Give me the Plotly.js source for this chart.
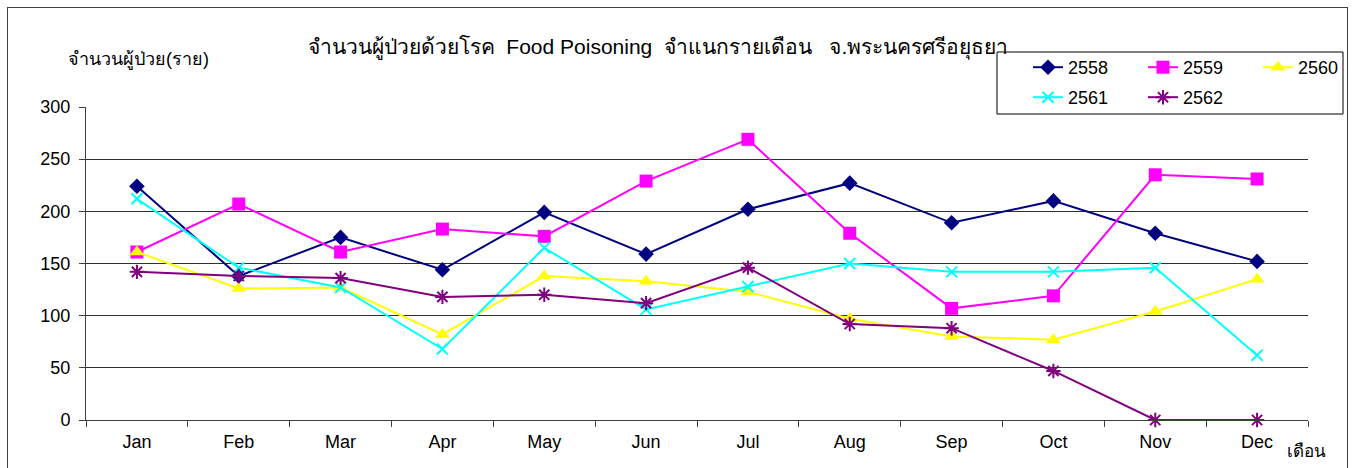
<!DOCTYPE html>
<html>
<head>
<meta charset="utf-8">
<script src="https://cdn.plot.ly/plotly-3.0.1.min.js"></script>
<style>
  html, body { margin: 0; padding: 0; background: #fff; }
  #wrap { position: relative; width: 1357px; height: 468px; overflow: hidden; }
  #chart { position: absolute; left: 0; top: 0; width: 1357px; height: 468px; }
  #frame { position: absolute; left: 7px; top: 7px; width: 1339px; height: 480px; border: 1px solid #404040; pointer-events: none; }
</style>
</head>
<body>
<div id="wrap">
  <div id="chart"></div>
  <div id="frame"></div>
</div>
<script>
const months = ['Jan','Feb','Mar','Apr','May','Jun','Jul','Aug','Sep','Oct','Nov','Dec'];
const y2558 = [224, 138, 175, 144, 199, 159, 202, 227, 189, 210, 179, 152];
const y2559 = [161, 207, 161, 183, 176, 229, 269, 179, 107, 119, 235, 231];
const y2560 = [161, 126, 127, 82, 138, 133, 123, 97, 80, 77, 104, 135];
const y2561 = [212, 146, 127, 68, 165, 106, 128, 150, 142, 142, 146, 62];
const y2562 = [142, 138, 136, 118, 120, 112, 146, 92, 88, 47, 0, 0];
const yTicks = [0, 50, 100, 150, 200, 250, 300];

const titleText = 'จำนวนผู้ป่วยด้วยโรค  Food Poisoning  จำแนกรายเดือน   จ.พระนครศรีอยุธยา';
const yTitleText = 'จำนวนผู้ป่วย(ราย)';
const xTitleText = 'เดือน';

const FONT = 'Liberation Sans, Arial, sans-serif';

function tr(name, y, color, symbol, size, legend, lineMarker) {
  return {
    type: 'scatter', mode: 'lines+markers', name: name, x: months, y: y,
    line: { color: color, width: 2 },
    marker: Object.assign({ symbol: symbol, size: size, color: color }, lineMarker || {}),
    legend: legend, cliponaxis: false
  };
}

const data = [
  tr('2558', y2558, '#000080', 'diamond', 12, 'legend'),
  tr('2559', y2559, '#FF00FF', 'square', 13, 'legend'),
  tr('2560', y2560, '#FFFF00', 'triangle-up', 13, 'legend'),
  tr('2561', y2561, '#00FFFF', 'x-thin-open', 11, 'legend2', { line: { color: '#00FFFF', width: 2 } }),
  tr('2562', y2562, '#800080', 'asterisk-open', 12, 'legend2', { line: { color: '#800080', width: 2 } })
];

const L = 86, R = 1308, T = 107, B = 420;
const W = 1357, H = 468;
const pw = R - L, ph = B - T;
const px = v => (v - L) / pw;
const py = v => (B - v) / ph;

const legendCommon = {
  orientation: 'h', xref: 'paper', yref: 'paper', xanchor: 'left', yanchor: 'top',
  bgcolor: 'rgba(255,255,255,0)', borderwidth: 0,
  font: { family: FONT, size: 18, color: '#000' },
  entrywidth: 70, entrywidthmode: 'pixels', itemwidth: 30, tracegroupgap: 0
};

const layout = {
  width: W, height: H,
  margin: { l: L, r: W - R, t: T, b: H - B, autoexpand: false },
  paper_bgcolor: '#fff', plot_bgcolor: '#fff',
  showlegend: true,
  title: {
    text: titleText, xref: 'container', yref: 'container',
    x: 658 / W, xanchor: 'center', y: 1 - 47 / H, yanchor: 'middle',
    font: { family: FONT, size: 21, color: '#000' }
  },
  xaxis: {
    type: 'category', range: [-0.5, 11.5], autorange: false,
    showgrid: false, showline: true, linecolor: '#404040', linewidth: 1,
    ticks: 'outside', tickson: 'boundaries', ticklen: 6, tickcolor: '#404040',
    ticklabelstandoff: 5,
    tickfont: { family: FONT, size: 18, color: '#000' }, zeroline: false, fixedrange: true
  },
  yaxis: {
    range: [0, 300], autorange: false, tickvals: yTicks, ticktext: yTicks.map(String),
    showgrid: true, gridcolor: '#303030', gridwidth: 1,
    showline: true, linecolor: '#404040', linewidth: 1,
    ticks: 'outside', ticklen: 6, tickcolor: '#404040',
    ticklabelstandoff: 5,
    tickfont: { family: FONT, size: 18, color: '#000' }, zeroline: false, fixedrange: true
  },
  legend: Object.assign({}, legendCommon, { x: px(1028), y: py(49) }),
  legend2: Object.assign({}, legendCommon, { x: px(1028), y: py(79) }),
  shapes: [
    { type: 'rect', xref: 'paper', yref: 'paper', x0: px(997), x1: px(1343), y0: py(52), y1: py(114),
      line: { color: '#000', width: 1 }, fillcolor: 'rgba(0,0,0,0)', layer: 'above' }
  ],
  annotations: [
    { text: yTitleText, xref: 'paper', yref: 'paper', x: px(138), y: py(60), xanchor: 'center', yanchor: 'middle',
      showarrow: false, font: { family: FONT, size: 18, color: '#000' } },
    { text: xTitleText, xref: 'paper', yref: 'paper', x: px(1306), y: py(451), xanchor: 'center', yanchor: 'middle',
      showarrow: false, font: { family: FONT, size: 17, color: '#000' } }
  ]
};

Plotly.newPlot('chart', data, layout, { displayModeBar: false, staticPlot: true });
</script>
</body>
</html>
